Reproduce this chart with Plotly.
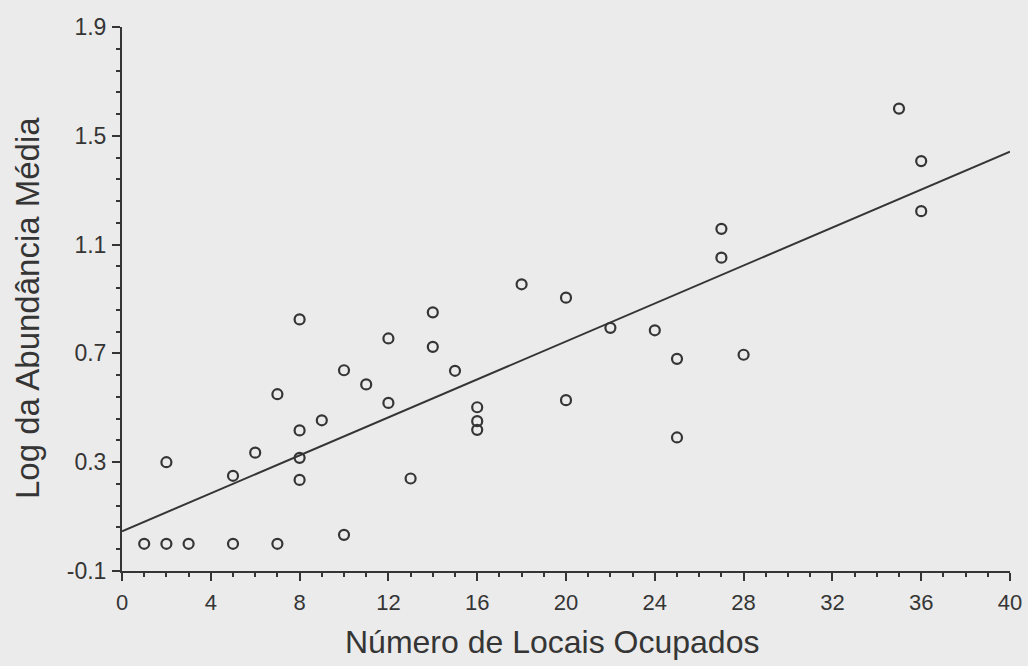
import plotly.graph_objects as go

# Data (x = number of occupied sites, y = log mean abundance)
locais = [1, 2, 3, 5, 7,
          2, 5, 6, 7,
          8, 8, 8, 8,
          9, 10, 10, 11, 12, 12, 13,
          14, 14, 15, 16, 16, 16,
          18, 20, 20, 22, 24, 25, 25,
          27, 27, 28, 35, 36, 36]
log_abund = [0.0, 0.0, 0.0, 0.0, 0.0,
             0.30, 0.25, 0.335, 0.55,
             0.825, 0.417, 0.316, 0.235,
             0.454, 0.638, 0.033, 0.586, 0.755, 0.518, 0.24,
             0.851, 0.724, 0.636, 0.502, 0.451, 0.419,
             0.954, 0.905, 0.528, 0.794, 0.785, 0.68, 0.391,
             1.158, 1.052, 0.695, 1.60, 1.407, 1.223]

# Regression line endpoints
reta_x = [0, 40]
reta_y = [0.046, 1.442]

x_ticks = [0, 4, 8, 12, 16, 20, 24, 28, 32, 36, 40]
y_ticks = [-0.1, 0.3, 0.7, 1.1, 1.5, 1.9]

x_title = "Número de Locais Ocupados"
y_title = "Log da Abundância Média"

ink = "#353535"
bg = "#ebebeb"
font_family = "Liberation Sans, Arial, sans-serif"

fig = go.Figure()
fig.add_trace(go.Scatter(
    x=reta_x, y=reta_y, mode="lines",
    line=dict(color=ink, width=2), hoverinfo="skip", showlegend=False))
fig.add_trace(go.Scatter(
    x=locais, y=log_abund, mode="markers",
    marker=dict(symbol="circle-open", size=10, color=ink, line=dict(width=2.2, color=ink)),
    showlegend=False))

fig.update_layout(
    width=1028, height=666,
    paper_bgcolor=bg, plot_bgcolor=bg,
    margin=dict(l=122, r=18, t=27, b=95),
    font=dict(family=font_family, color=ink),
    showlegend=False,
    annotations=[
        dict(text=x_title, xref="paper", yref="paper", x=(552 - 122) / 888, y=-(642 - 571) / 544,
             xanchor="center", yanchor="middle", showarrow=False,
             font=dict(size=32, color=ink)),
        dict(text=y_title, xref="paper", yref="paper", x=-(122 - 27) / 888, y=(571 - 308) / 544,
             xanchor="center", yanchor="middle", showarrow=False, textangle=-90,
             font=dict(size=33, color=ink)),
    ],
)

fig.update_xaxes(
    range=[0, 40], tickvals=x_ticks, ticktext=[str(v) for v in x_ticks],
    showgrid=False, zeroline=False, automargin=False,
    showline=True, linecolor=ink, linewidth=2,
    ticks="outside", ticklen=8, tickwidth=2, tickcolor=ink,
    minor=dict(dtick=1, tick0=0, ticks="outside", ticklen=4, tickwidth=1.5, tickcolor=ink, showgrid=False),
    tickfont=dict(size=22, color=ink),
    ticklabelstandoff=3,
)
fig.update_yaxes(
    range=[-0.1, 1.9], tickvals=y_ticks, ticktext=[f"{v:.1f}" for v in y_ticks],
    showgrid=False, zeroline=False, automargin=False,
    showline=True, linecolor=ink, linewidth=2,
    ticks="outside", ticklen=8, tickwidth=2, tickcolor=ink,
    minor=dict(dtick=0.08, tick0=-0.1, ticks="outside", ticklen=4, tickwidth=1.5, tickcolor=ink, showgrid=False),
    tickfont=dict(size=23, color=ink),
    ticklabelstandoff=1,
)

fig.write_html(
    "out.html",
    config={"displayModeBar": False},
    post_script="document.body.style.margin='0';document.body.style.overflow='hidden';document.body.style.background='%s';" % bg,
)
